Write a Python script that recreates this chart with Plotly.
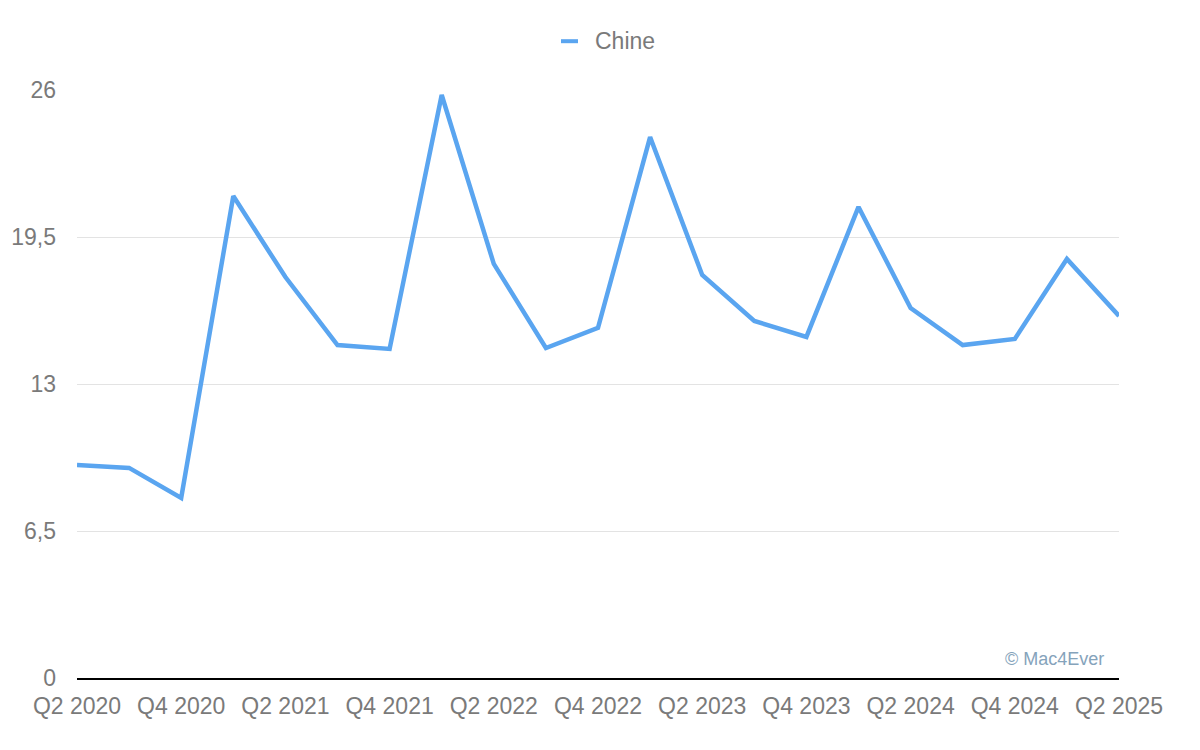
import plotly.graph_objects as go

quarters = [
    "Q2 2020", "Q3 2020", "Q4 2020", "Q1 2021", "Q2 2021", "Q3 2021", "Q4 2021",
    "Q1 2022", "Q2 2022", "Q3 2022", "Q4 2022", "Q1 2023", "Q2 2023", "Q3 2023",
    "Q4 2023", "Q1 2024", "Q2 2024", "Q3 2024", "Q4 2024", "Q1 2025", "Q2 2025",
]
chine = [
    9.42, 9.29, 7.96, 21.31, 17.73, 14.72, 14.55,
    25.78, 18.31, 14.59, 15.48, 23.92, 17.82, 15.79,
    15.08, 20.83, 16.36, 14.72, 14.99, 18.53, 16.01,
]
y_ticks = [0, 6.5, 13, 19.5, 26]
y_labels = ["0", "6,5", "13", "19,5", "26"]
series_name = "Chine"

LINE_COLOR = "#5aa5f0"
TEXT_COLOR = "#7a7a7a"
FONT = "Liberation Sans, Arial, Helvetica, sans-serif"

x_idx = list(range(len(quarters)))

fig = go.Figure()
fig.add_trace(go.Scatter(
    x=x_idx,
    y=chine,
    mode="lines",
    name=series_name,
    line=dict(color=LINE_COLOR, width=4.5),
    showlegend=False,
))

# hand-made legend (short dash + label), centred above the plot
legend_y = 1.083
shapes = [dict(
    type="line", xref="paper", yref="paper",
    x0=0.4645, x1=0.4808, y0=legend_y, y1=legend_y,
    line=dict(color=LINE_COLOR, width=4),
)]

fig.update_layout(
    width=1200,
    height=750,
    paper_bgcolor="white",
    plot_bgcolor="white",
    margin=dict(l=69, r=89, t=82, b=80),
    font=dict(family=FONT, size=23, color=TEXT_COLOR),
    shapes=shapes,
    xaxis=dict(
        range=[0, 20],
        tickvals=x_idx[::2],
        ticktext=quarters[::2],
        showgrid=False,
        zeroline=False,
        showline=True,
        linecolor="black",
        linewidth=2,
        ticks="",
        ticklabelstandoff=6,
        automargin=False,
    ),
    yaxis=dict(
        range=[0, 26],
        tickvals=y_ticks,
        ticktext=y_labels,
        showgrid=True,
        gridcolor="#e3e3e3",
        gridwidth=1,
        zeroline=False,
        showline=False,
        ticks="",
        ticklabelstandoff=20,
        automargin=False,
    ),
    annotations=[
        dict(
            text=series_name,
            xref="paper", yref="paper",
            x=0.4952, y=legend_y,
            xanchor="left", yanchor="middle",
            showarrow=False,
            font=dict(family=FONT, size=23, color=TEXT_COLOR),
        ),
        dict(
            text="© Mac4Ever",
            xref="paper", yref="paper",
            x=0.9875, y=0.012,
            xanchor="right", yanchor="bottom",
            showarrow=False,
            font=dict(family=FONT, size=18, color="#85a3bb"),
        ),
    ],
)

fig.write_html("out.html")
